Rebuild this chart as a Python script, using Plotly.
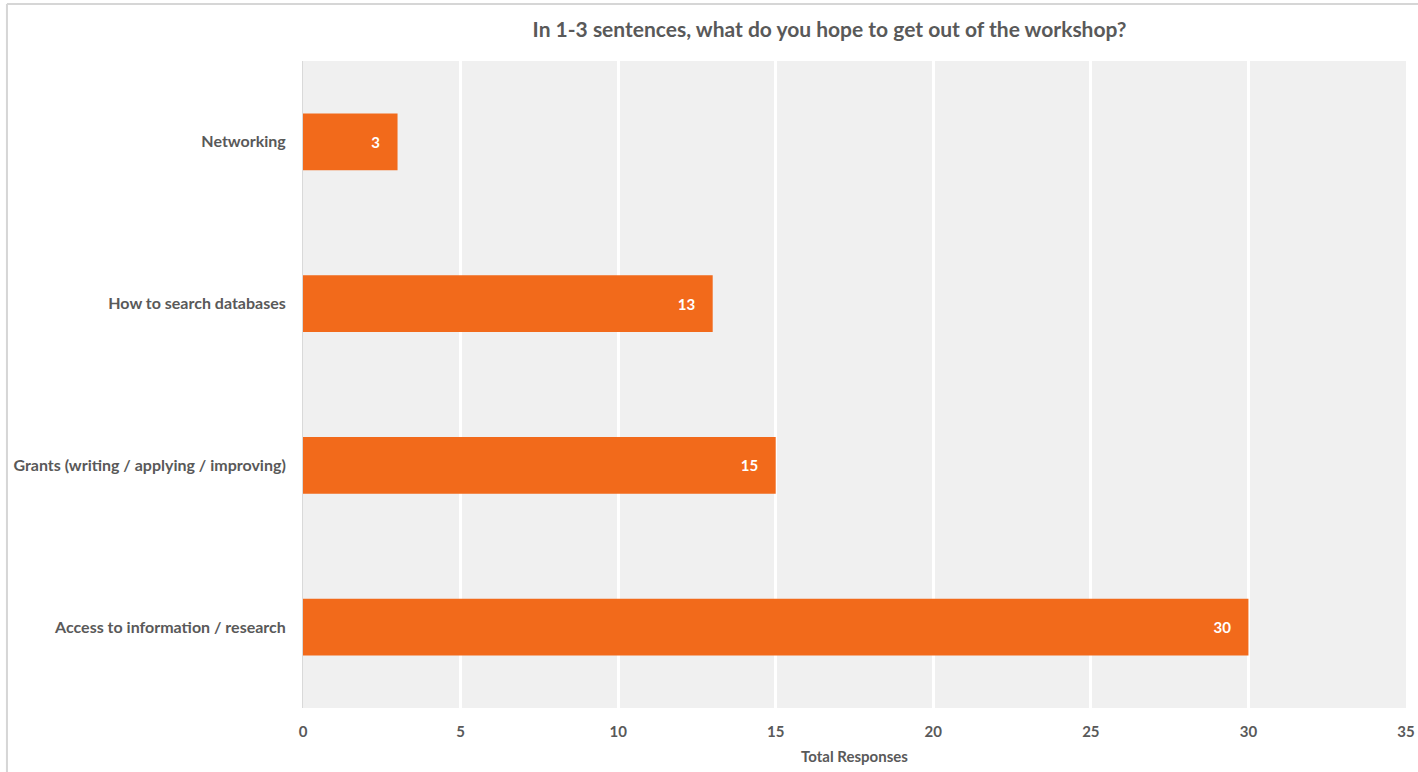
import plotly.graph_objects as go

# Survey answers, bottom-to-top order on the category axis
categories = [
    "Access to information / research",
    "Grants (writing / applying / improving)",
    "How to search databases",
    "Networking",
]
responses = [30, 15, 13, 3]
x_ticks = [0, 5, 10, 15, 20, 25, 30, 35]

BAR = "#f26a1b"
TEXT = "#595959"
FONT = "Lato"

fig = go.Figure(
    go.Bar(
        x=responses,
        y=categories,
        orientation="h",
        marker=dict(color=BAR, line=dict(width=0)),
        width=0.35,
        texttemplate="%{x}\u00a0\u00a0\u00a0\u00a0",
        textposition="inside",
        insidetextanchor="end",
        textfont=dict(family=FONT, size=15, color="white", weight="bold"),
        cliponaxis=False,
    )
)

fig.update_layout(
    width=1418,
    height=772,
    margin=dict(l=303, r=12, t=61, b=64, autoexpand=False),
    paper_bgcolor="white",
    plot_bgcolor="#f0f0f0",
    showlegend=False,
    bargap=0.65,
    title=dict(
        text="In 1-3 sentences, what do you hope to get out of the workshop?",
        x=0.585,
        xanchor="center",
        y=0.962,
        yanchor="middle",
        font=dict(family=FONT, size=21, color=TEXT, weight="bold"),
    ),
    xaxis=dict(
        range=[0, 35],
        tickvals=x_ticks,
        ticktext=[str(t) for t in x_ticks],
        showgrid=True,
        gridcolor="white",
        gridwidth=3,
        zeroline=False,
        showline=False,
        automargin=False,
        ticks="outside",
        ticklen=10,
        tickcolor="rgba(0,0,0,0)",
        tickfont=dict(family=FONT, size=15, color=TEXT, weight="bold"),
        title=dict(
            text="Total Responses",
            font=dict(family=FONT, size=15, color=TEXT, weight="bold"),
            standoff=12,
        ),
        fixedrange=True,
    ),
    yaxis=dict(
        categoryorder="array",
        categoryarray=categories,
        showgrid=False,
        zeroline=False,
        showline=True,
        linecolor="#d9d9d9",
        linewidth=1,
        automargin=False,
        ticks="outside",
        ticklen=13,
        tickcolor="rgba(0,0,0,0)",
        tickfont=dict(family=FONT, size=16, color=TEXT, weight="bold"),
        fixedrange=True,
    ),
    shapes=[
        # light frame around the chart area
        dict(type="line", xref="paper", yref="paper",
             x0=-0.2684, x1=-0.2684, y0=-0.2, y1=1.0881,
             line=dict(color="#d6d6d6", width=2)),
        dict(type="line", xref="paper", yref="paper",
             x0=-0.2684, x1=1.02, y0=1.0881, y1=1.0881,
             line=dict(color="#d6d6d6", width=2)),
    ],
)

fig.write_html("out.html")
